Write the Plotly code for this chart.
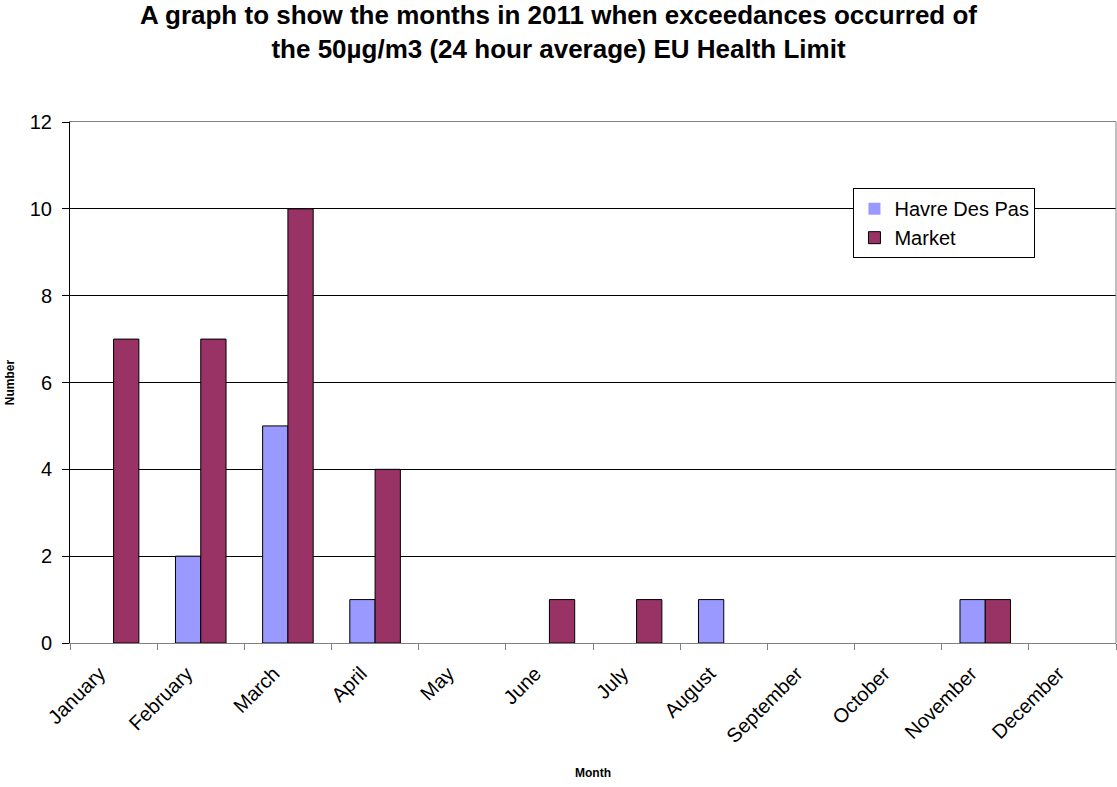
import plotly.graph_objects as go

months = ["January", "February", "March", "April", "May", "June", "July",
          "August", "September", "October", "November", "December"]
havre_des_pas = [0, 2, 5, 1, 0, 0, 0, 1, 0, 0, 1, 0]
market = [7, 7, 10, 4, 0, 1, 1, 0, 0, 0, 1, 0]

FONT = "Arial, Liberation Sans, sans-serif"

fig = go.Figure()
fig.add_trace(go.Bar(name="Havre Des Pas", x=months, y=havre_des_pas,
                     marker=dict(color="#9999FF",
                                 line=dict(color="#000000",
                                           width=[1 if v else 0 for v in havre_des_pas]))))
fig.add_trace(go.Bar(name="Market", x=months, y=market,
                     marker=dict(color="#993366",
                                 line=dict(color="#000000",
                                           width=[1 if v else 0 for v in market]))))

fig.update_layout(
    width=1117, height=787,
    paper_bgcolor="white", plot_bgcolor="white",
    font=dict(family=FONT, color="black"),
    margin=dict(l=70, r=1, t=122, b=144),
    barmode="group", bargap=0.42, bargroupgap=0,
    title=dict(
        text="<b>A graph to show the months in 2011 when exceedances occurred of<br>the 50µg/m3 (24 hour average) EU Health Limit</b>",
        x=0.5, xanchor="center", y=0.969, yanchor="top",
        font=dict(size=26, family=FONT),
    ),
    showlegend=True,
    legend=dict(
        x=0.749, y=0.873, xanchor="left", yanchor="top",
        bgcolor="white", bordercolor="black", borderwidth=1,
        font=dict(size=20), itemwidth=30,
    ),
    xaxis=dict(
        type="category", tickangle=-45, tickson="boundaries",
        ticks="outside", ticklen=6, tickcolor="#808080",
        showline=True, linecolor="#808080", linewidth=1, mirror=True,
        showgrid=False, tickfont=dict(size=20),
        ticklabelstandoff=10, ticklabelshift=-14,
        automargin=False,
        title=dict(text="<b>Month</b>", font=dict(size=12), standoff=22),
    ),
    yaxis=dict(
        range=[0, 12], dtick=2, ticks="outside", ticklen=7, tickcolor="black",
        showline=True, linecolor="black", linewidth=1,
        showgrid=True, gridcolor="black", gridwidth=1,
        zeroline=False, tickfont=dict(size=20), ticklabelstandoff=6,
        automargin=False,
        title=dict(text="<b>Number</b>", font=dict(size=12), standoff=12),
    ),
    shapes=[dict(type="line", xref="paper", yref="paper", x0=1, x1=1, y0=0, y1=1,
                 line=dict(color="#808080", width=1))],
)

fig.write_html("out.html", config={"displayModeBar": False},
               post_script="document.body.style.margin='0';")
